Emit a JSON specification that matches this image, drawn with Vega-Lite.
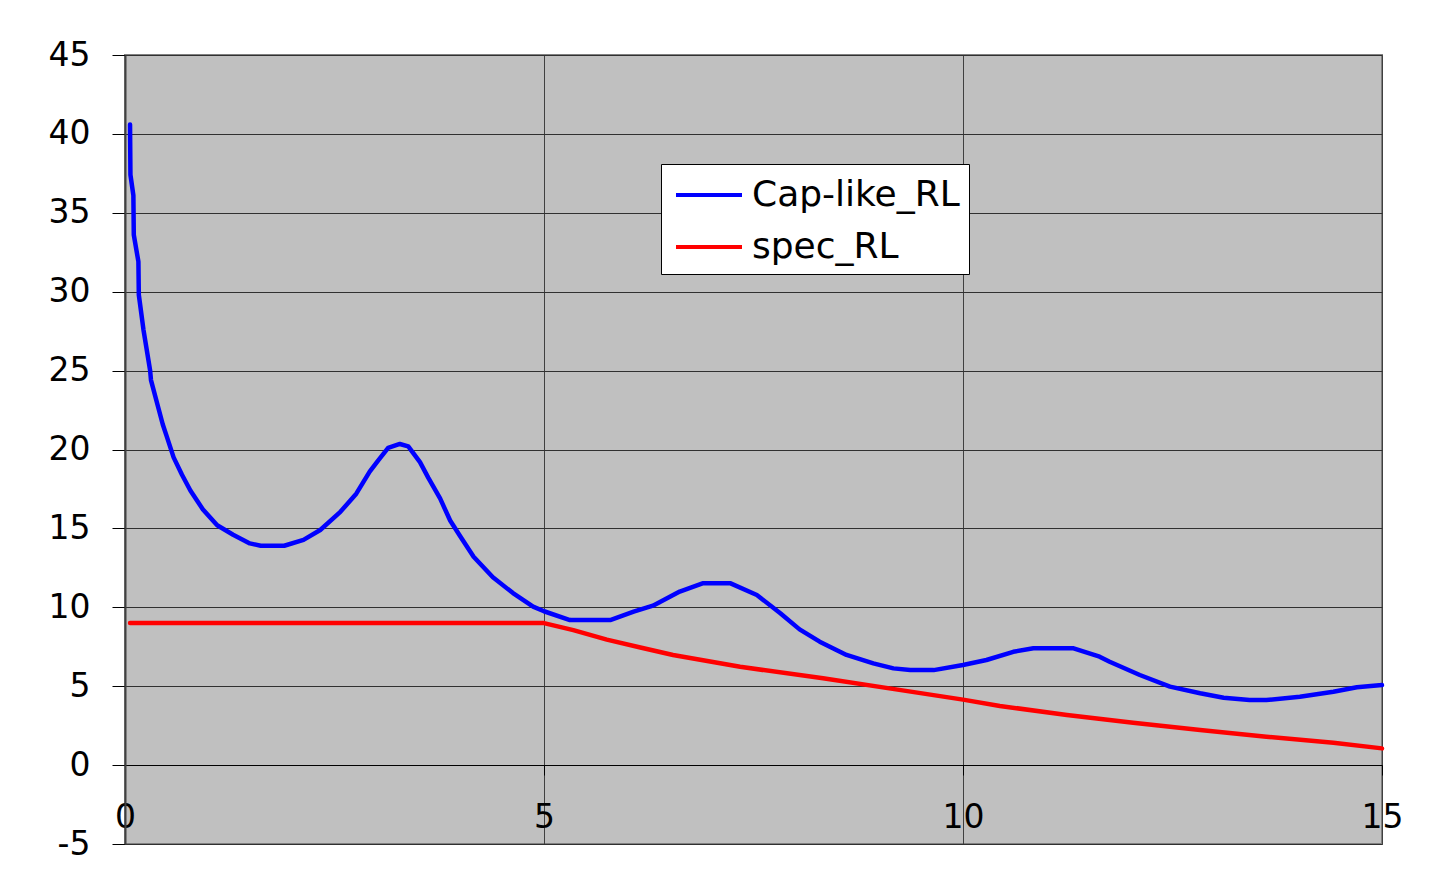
{
  "$schema": "https://vega.github.io/schema/vega-lite/v6.json",
  "autosize": {"type": "none"},
  "padding": {"left": 125, "top": 55, "right": 69, "bottom": 46},
  "width": 1257,
  "height": 789,
  "background": "white",
  "config": {
    "view": {"fill": "#C0C0C0", "stroke": "#808080", "strokeWidth": 2},
    "font": "DejaVu Sans"
  },
  "data": {"values": [
    {"x": 0.06, "y": 40.6, "series": "Cap-like_RL"},
    {"x": 0.065, "y": 37.4, "series": "Cap-like_RL"},
    {"x": 0.1, "y": 36.1, "series": "Cap-like_RL"},
    {"x": 0.105, "y": 33.6, "series": "Cap-like_RL"},
    {"x": 0.16, "y": 31.9, "series": "Cap-like_RL"},
    {"x": 0.165, "y": 29.8, "series": "Cap-like_RL"},
    {"x": 0.22, "y": 27.6, "series": "Cap-like_RL"},
    {"x": 0.3, "y": 25.0, "series": "Cap-like_RL"},
    {"x": 0.31, "y": 24.4, "series": "Cap-like_RL"},
    {"x": 0.4, "y": 22.6, "series": "Cap-like_RL"},
    {"x": 0.45, "y": 21.6, "series": "Cap-like_RL"},
    {"x": 0.5, "y": 20.8, "series": "Cap-like_RL"},
    {"x": 0.58, "y": 19.5, "series": "Cap-like_RL"},
    {"x": 0.68, "y": 18.4, "series": "Cap-like_RL"},
    {"x": 0.78, "y": 17.4, "series": "Cap-like_RL"},
    {"x": 0.93, "y": 16.2, "series": "Cap-like_RL"},
    {"x": 1.1, "y": 15.2, "series": "Cap-like_RL"},
    {"x": 1.29, "y": 14.6, "series": "Cap-like_RL"},
    {"x": 1.49, "y": 14.05, "series": "Cap-like_RL"},
    {"x": 1.62, "y": 13.9, "series": "Cap-like_RL"},
    {"x": 1.9, "y": 13.9, "series": "Cap-like_RL"},
    {"x": 2.13, "y": 14.27, "series": "Cap-like_RL"},
    {"x": 2.33, "y": 14.9, "series": "Cap-like_RL"},
    {"x": 2.57, "y": 16.05, "series": "Cap-like_RL"},
    {"x": 2.76, "y": 17.2, "series": "Cap-like_RL"},
    {"x": 2.92, "y": 18.6, "series": "Cap-like_RL"},
    {"x": 3.02, "y": 19.3, "series": "Cap-like_RL"},
    {"x": 3.14, "y": 20.1, "series": "Cap-like_RL"},
    {"x": 3.28, "y": 20.35, "series": "Cap-like_RL"},
    {"x": 3.38, "y": 20.2, "series": "Cap-like_RL"},
    {"x": 3.52, "y": 19.2, "series": "Cap-like_RL"},
    {"x": 3.62, "y": 18.2, "series": "Cap-like_RL"},
    {"x": 3.76, "y": 16.9, "series": "Cap-like_RL"},
    {"x": 3.88, "y": 15.5, "series": "Cap-like_RL"},
    {"x": 4.0, "y": 14.5, "series": "Cap-like_RL"},
    {"x": 4.16, "y": 13.2, "series": "Cap-like_RL"},
    {"x": 4.39, "y": 11.9, "series": "Cap-like_RL"},
    {"x": 4.63, "y": 10.9, "series": "Cap-like_RL"},
    {"x": 4.87, "y": 10.04, "series": "Cap-like_RL"},
    {"x": 5.0, "y": 9.75, "series": "Cap-like_RL"},
    {"x": 5.31, "y": 9.19, "series": "Cap-like_RL"},
    {"x": 5.79, "y": 9.19, "series": "Cap-like_RL"},
    {"x": 6.07, "y": 9.72, "series": "Cap-like_RL"},
    {"x": 6.3, "y": 10.1, "series": "Cap-like_RL"},
    {"x": 6.62, "y": 11.0, "series": "Cap-like_RL"},
    {"x": 6.9, "y": 11.53, "series": "Cap-like_RL"},
    {"x": 7.22, "y": 11.53, "series": "Cap-like_RL"},
    {"x": 7.54, "y": 10.78, "series": "Cap-like_RL"},
    {"x": 7.82, "y": 9.62, "series": "Cap-like_RL"},
    {"x": 8.05, "y": 8.6, "series": "Cap-like_RL"},
    {"x": 8.29, "y": 7.82, "series": "Cap-like_RL"},
    {"x": 8.61, "y": 6.98, "series": "Cap-like_RL"},
    {"x": 8.93, "y": 6.45, "series": "Cap-like_RL"},
    {"x": 9.17, "y": 6.13, "series": "Cap-like_RL"},
    {"x": 9.37, "y": 6.02, "series": "Cap-like_RL"},
    {"x": 9.65, "y": 6.02, "series": "Cap-like_RL"},
    {"x": 10.0, "y": 6.34, "series": "Cap-like_RL"},
    {"x": 10.28, "y": 6.66, "series": "Cap-like_RL"},
    {"x": 10.6, "y": 7.18, "series": "Cap-like_RL"},
    {"x": 10.84, "y": 7.4, "series": "Cap-like_RL"},
    {"x": 11.32, "y": 7.4, "series": "Cap-like_RL"},
    {"x": 11.63, "y": 6.87, "series": "Cap-like_RL"},
    {"x": 11.75, "y": 6.55, "series": "Cap-like_RL"},
    {"x": 12.11, "y": 5.71, "series": "Cap-like_RL"},
    {"x": 12.47, "y": 4.97, "series": "Cap-like_RL"},
    {"x": 12.83, "y": 4.55, "series": "Cap-like_RL"},
    {"x": 13.11, "y": 4.27, "series": "Cap-like_RL"},
    {"x": 13.42, "y": 4.12, "series": "Cap-like_RL"},
    {"x": 13.62, "y": 4.12, "series": "Cap-like_RL"},
    {"x": 14.02, "y": 4.33, "series": "Cap-like_RL"},
    {"x": 14.42, "y": 4.65, "series": "Cap-like_RL"},
    {"x": 14.7, "y": 4.93, "series": "Cap-like_RL"},
    {"x": 15.0, "y": 5.07, "series": "Cap-like_RL"},
    {"x": 0.06, "y": 9.0, "series": "spec_RL"},
    {"x": 5.0, "y": 9.0, "series": "spec_RL"},
    {"x": 5.35, "y": 8.55, "series": "spec_RL"},
    {"x": 5.75, "y": 7.95, "series": "spec_RL"},
    {"x": 6.15, "y": 7.45, "series": "spec_RL"},
    {"x": 6.54, "y": 6.98, "series": "spec_RL"},
    {"x": 7.34, "y": 6.23, "series": "spec_RL"},
    {"x": 8.33, "y": 5.5, "series": "spec_RL"},
    {"x": 9.2, "y": 4.8, "series": "spec_RL"},
    {"x": 10.0, "y": 4.15, "series": "spec_RL"},
    {"x": 10.44, "y": 3.75, "series": "spec_RL"},
    {"x": 11.24, "y": 3.17, "series": "spec_RL"},
    {"x": 12.03, "y": 2.68, "series": "spec_RL"},
    {"x": 12.83, "y": 2.22, "series": "spec_RL"},
    {"x": 13.62, "y": 1.8, "series": "spec_RL"},
    {"x": 14.42, "y": 1.41, "series": "spec_RL"},
    {"x": 15.0, "y": 1.06, "series": "spec_RL"}
  ]},
  "mark": {"type": "line", "strokeWidth": 4.5, "strokeCap": "round", "strokeJoin": "round"},
  "encoding": {
    "x": {
      "field": "x", "type": "quantitative",
      "scale": {"domain": [0, 15], "nice": false, "zero": false},
      "axis": {
        "values": [0, 5, 10, 15], "labelExpr": "datum.value", "title": null,
        "offset": -79,
        "domainColor": "#000000", "domainWidth": 1,
        "tickColor": "#000000", "tickSize": 10, "tickWidth": 1,
        "labelFontSize": 33, "labelColor": "#000000", "labelPadding": 26,
        "labelFlush": false, "labelOverlap": false,
        "grid": true, "gridColor": "#404040", "gridWidth": 1
      }
    },
    "y": {
      "field": "y", "type": "quantitative",
      "scale": {"domain": [-5, 45], "nice": false, "zero": false},
      "axis": {
        "values": [-5, 0, 5, 10, 15, 20, 25, 30, 35, 40, 45], "labelExpr": "datum.value", "title": null,
        "domainColor": "#404040", "domainWidth": 2,
        "tickColor": "#000000", "tickSize": 13, "tickWidth": 1,
        "labelFontSize": 33, "labelColor": "#000000", "labelPadding": 22,
        "labelOverlap": false,
        "grid": true, "gridColor": "#303030", "gridWidth": 1
      }
    },
    "color": {
      "field": "series", "type": "nominal",
      "scale": {"domain": ["Cap-like_RL", "spec_RL"], "range": ["#0000FF", "#FF0000"]},
      "legend": {
        "title": null, "orient": "none", "legendX": 536, "legendY": 109,
        "symbolType": "M-0.8,0H2.5", "symbolSize": 1600, "symbolStrokeWidth": 4,
        "labelFontSize": 36, "labelColor": "#000000", "labelOffset": 38, "labelLimit": 600,
        "padding": 9, "rowPadding": 12,
        "fillColor": "#FFFFFF", "strokeColor": "#000000", "cornerRadius": 0
      }
    }
  }
}
